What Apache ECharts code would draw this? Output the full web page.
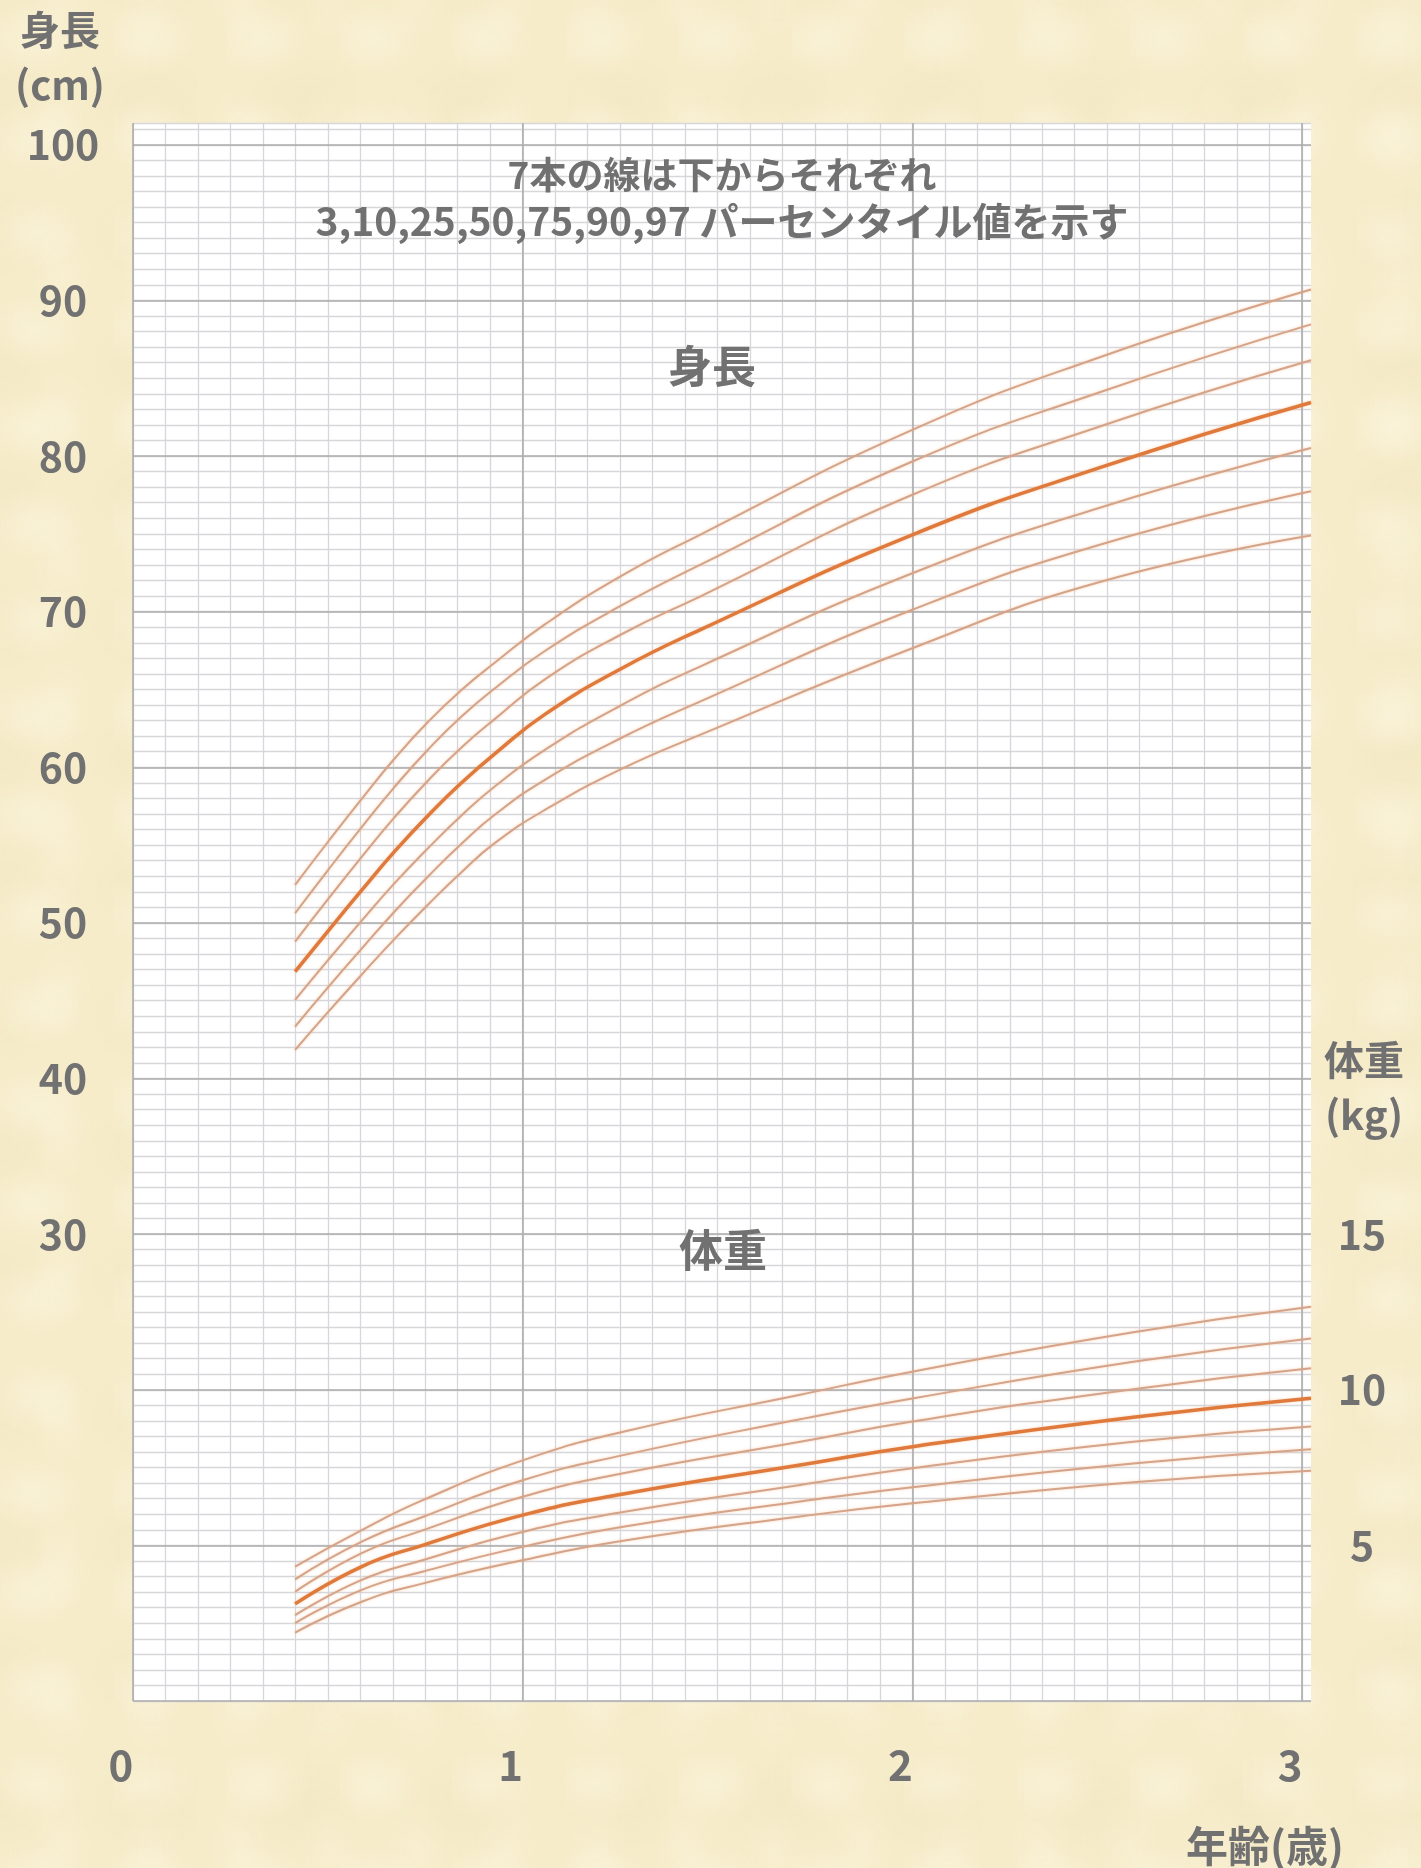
<!DOCTYPE html>
<html>
<head>
<meta charset="utf-8">
<script src="https://cdn.jsdelivr.net/npm/echarts@6/dist/echarts.min.js"></script>
<style>
html,body{margin:0;padding:0;}
body{
  width:1421px;height:1868px;overflow:hidden;
  background-color:#f6ecca;
  background-image:
    radial-gradient(ellipse at 30% 40%, rgba(255,251,235,0.35) 0%, rgba(255,251,235,0) 45%),
    radial-gradient(ellipse at 70% 60%, rgba(236,222,180,0.22) 0%, rgba(236,222,180,0) 50%),
    radial-gradient(ellipse at 50% 50%, rgba(252,246,224,0.3) 0%, rgba(252,246,224,0) 50%);
  background-size:113px 97px, 157px 131px, 89px 143px;
  background-position:0 0, 41px 23px, 17px 61px;
}
#chart{width:1421px;height:1868px;}
</style>
</head>
<body>
<div id="chart"></div>
<script>
// ---- data ----
const percentiles = ['3', '10', '25', '50', '75', '90', '97'];

// height (cm) vs age (axis years)
const ageH = [0.416, 0.501, 0.587, 0.672, 0.758, 0.843, 0.929, 1.057, 1.25, 1.455, 2.0, 2.481, 3.023];
const h3  = [41.84, 44.28, 46.68, 48.99, 51.20, 53.26, 55.14, 57.26, 59.85, 62.08, 67.65, 71.90, 74.89];
const h10 = [43.34, 45.87, 48.35, 50.75, 53.00, 55.08, 56.96, 59.19, 61.85, 64.22, 70.12, 74.30, 77.74];
const h25 = [45.05, 47.62, 50.15, 52.57, 54.82, 56.90, 58.78, 61.12, 63.95, 66.47, 72.47, 76.68, 80.51];
const h50 = [46.87, 49.49, 52.10, 54.61, 56.92, 59.00, 60.88, 63.40, 66.30, 68.83, 74.94, 79.25, 83.44];
const h75 = [48.80, 51.54, 54.24, 56.81, 59.17, 61.27, 63.11, 65.65, 68.50, 70.97, 77.51, 81.90, 86.15];
const h90 = [50.62, 53.41, 56.15, 58.76, 61.16, 63.26, 65.08, 67.47, 70.35, 73.00, 79.65, 84.10, 88.46];
const h97 = [52.44, 55.23, 57.97, 60.58, 62.94, 64.97, 66.73, 69.18, 72.25, 74.94, 81.68, 86.35, 90.70];

// weight (kg) vs age
const ageW = [0.416, 0.587, 0.745, 1.002, 1.258, 1.712, 2.0, 2.567, 3.023];
const w3  = [2.20, 3.19, 3.78, 4.53, 5.15, 5.93, 6.35, 7.03, 7.40];
const w10 = [2.50, 3.57, 4.16, 4.96, 5.60, 6.41, 6.87, 7.63, 8.09];
const w25 = [2.76, 3.89, 4.53, 5.44, 6.07, 6.94, 7.48, 8.33, 8.82];
const w50 = [3.12, 4.32, 5.01, 5.98, 6.65, 7.58, 8.17, 9.12, 9.73];
const w75 = [3.51, 4.75, 5.49, 6.57, 7.32, 8.33, 8.98, 10.02, 10.69];
const w90 = [3.91, 5.12, 5.92, 7.10, 7.90, 9.05, 9.72, 10.90, 11.65];
const w97 = [4.32, 5.49, 6.46, 7.74, 8.65, 9.84, 10.58, 11.85, 12.67];

// tick labels
const xTickLabels = [0, 1, 2, 3];
const heightTickLabels = [30, 40, 50, 60, 70, 80, 90, 100];
const weightTickLabels = [5, 10, 15];

// texts
const noteLine1 = '7本の線は下からそれぞれ';
const noteLine2 = '3,10,25,50,75,90,97 パーセンタイル値を示す';

// ---- build ----
const heights = [h3, h10, h25, h50, h75, h90, h97];
const weights = [w3, w10, w25, w50, w75, w90, w97];

const FONT = '"Noto Sans CJK JP", "Noto Sans", sans-serif';
const GRAY = '#717171';
const THIN = '#d4a38a';
const THICK = '#df7a3c';
const MAJOR = '#adadad';
const MINOR = '#d7d7db';

const X_MAX = 3.023, H_MAX = 101.4, W_MAX = H_MAX / 2;

function lineSeries(name, xs, ys, yIdx, isMedian) {
  return {
    name: name, type: 'line', xAxisIndex: 0, yAxisIndex: yIdx,
    data: xs.map((x, i) => [x, ys[i]]),
    smooth: 0.5, symbol: 'none', silent: true,
    z: isMedian ? 4 : 3,
    lineStyle: {
      color: isMedian ? THICK : THIN, width: isMedian ? 3.5 : 2,
      shadowColor: 'rgba(245,160,90,0.45)', shadowBlur: 3
    }
  };
}

const series = [];
heights.forEach((arr, i) => series.push(lineSeries('身長 ' + percentiles[i], ageH, arr, 0, percentiles[i] === '50')));
weights.forEach((arr, i) => series.push(lineSeries('体重 ' + percentiles[i], ageW, arr, 2, percentiles[i] === '50')));

const labelBase = { color: GRAY, fontFamily: FONT, fontWeight: 'bold', fontSize: 41 };

function txt(text, x, y, size) {
  return { type: 'text', x: x, y: y, silent: true, z: 10,
    style: { text: text, fill: GRAY, fontFamily: FONT, fontWeight: 'bold', fontSize: size,
             align: 'center', verticalAlign: 'middle' } };
}

const option = {
  backgroundColor: 'transparent',
  animation: false,
  grid: { left: 133, right: 110, top: 123, bottom: 167, show: true,
          backgroundColor: '#ffffff', borderWidth: 0 },
  xAxis: [
    { type: 'value', min: 0, max: X_MAX, interval: 1, position: 'bottom', z: 1,
      axisLine: { show: false }, axisTick: { show: false },
      splitLine: { show: true, showMaxLine: false, lineStyle: { color: MAJOR, width: 1.6 } },
      axisLabel: Object.assign({}, labelBase, {
        fontSize: 42, margin: 64, verticalAlign: 'middle', align: 'center', padding: [0, 24, 0, 0],
        formatter: v => xTickLabels.indexOf(v) >= 0 ? String(v) : ''
      }) },
    { type: 'value', min: 0, max: X_MAX * 12, interval: 1, position: 'bottom', z: 0,
      axisLine: { show: false }, axisTick: { show: false }, axisLabel: { show: false },
      splitLine: { show: true, showMaxLine: false, lineStyle: { color: MINOR, width: 1.3 } } }
  ],
  yAxis: [
    { type: 'value', min: 0, max: H_MAX, interval: 10, position: 'left', z: 1,
      axisLine: { show: false }, axisTick: { show: false },
      splitLine: { show: true, showMaxLine: false, lineStyle: { color: MAJOR, width: 1.6 } },
      axisLabel: Object.assign({}, labelBase, {
        margin: 70, align: 'center', verticalAlign: 'middle', padding: [18, 0, 0, 0],
        formatter: v => heightTickLabels.indexOf(v) >= 0 ? String(v) : ''
      }) },
    { type: 'value', min: 0, max: H_MAX, interval: 1, position: 'left', z: 0,
      axisLine: { show: false }, axisTick: { show: false }, axisLabel: { show: false },
      splitLine: { show: true, lineStyle: { color: MINOR, width: 1.3 } } },
    { type: 'value', min: 0, max: W_MAX, interval: 5, position: 'right', z: 1,
      axisLine: { show: false }, axisTick: { show: false }, splitLine: { show: false },
      axisLabel: Object.assign({}, labelBase, {
        margin: 51, align: 'center', verticalAlign: 'middle', padding: [22, 0, 0, 0],
        formatter: v => weightTickLabels.indexOf(v) >= 0 ? String(v) : ''
      }) }
  ],
  graphic: [
    txt('身長', 60, 30, 40),
    txt('(cm)', 60, 85, 40),
    txt('体重', 1364, 1060, 40),
    txt('(kg)', 1364, 1115, 40),
    txt('年齢(歳)', 1265, 1846, 42),
    txt(noteLine1, 722, 175, 37),
    txt(noteLine2, 722, 221, 39),
    txt('身長', 712, 366, 44),
    txt('体重', 723, 1250, 44)
  ],
  series: series
};

const chart = echarts.init(document.getElementById('chart'), null, { renderer: 'canvas' });
chart.setOption(option);
</script>
</body>
</html>
